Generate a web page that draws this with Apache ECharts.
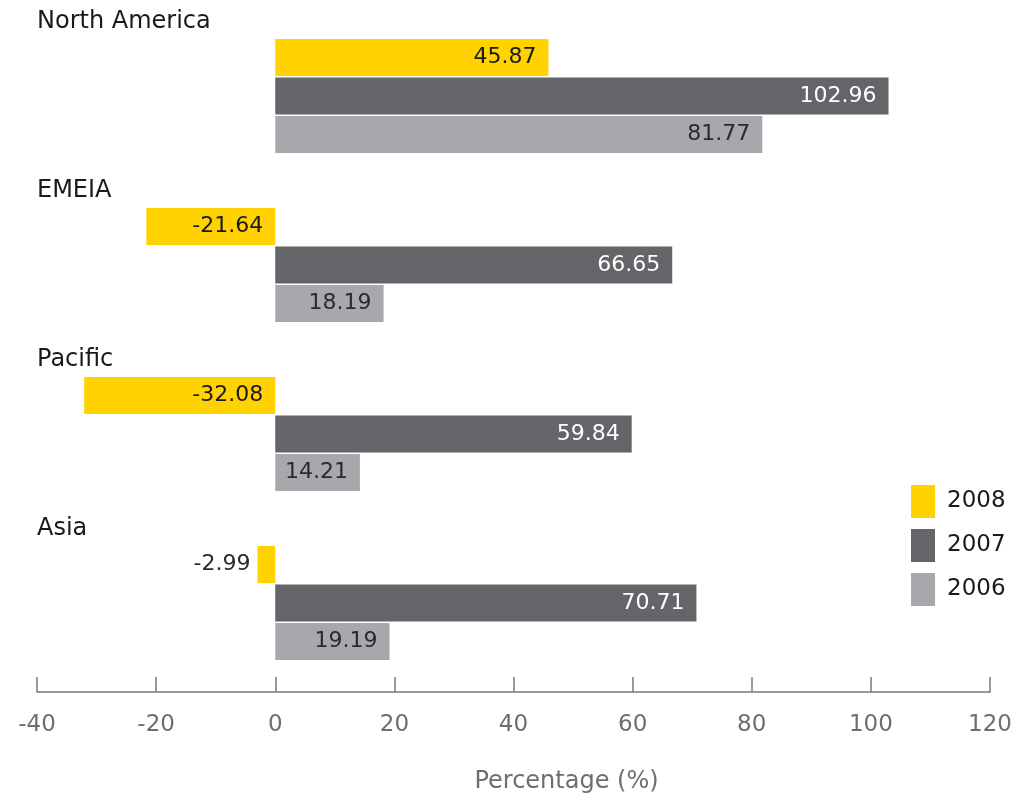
<!DOCTYPE html>
<html>
<head>
<meta charset="utf-8">
<script src="https://cdn.jsdelivr.net/npm/echarts@6/dist/echarts.min.js"></script>
<style>html,body{margin:0;padding:0;background:#fff}#c{width:1026px;height:799px}</style>
</head>
<body>
<div id="c"></div>
<script>
const categories = ['North America', 'EMEIA', 'Pacific', 'Asia'];
const years = ['2008', '2007', '2006'];
const values2008 = [45.87, -21.64, -32.08, -2.99];
const values2007 = [102.96, 66.65, 59.84, 70.71];
const values2006 = [81.77, 18.19, 14.21, 19.19];
const xTicks = { min: -40, max: 120, interval: 20 };
const axisName = 'Percentage (%)';

const FONT = 'DejaVu Sans';
const colors = ['#FFD200', '#646569', '#A7A8AC'];
const labelColors = ['#1a1a1a', '#ffffff', '#2a2a2a'];

function makeData(vals) {
  return vals.map(v => {
    const small = Math.abs(v) < 8;
    return {
      value: v,
      label: small ? { position: 'left', distance: 7, color: '#2a2a2a' } : {}
    };
  });
}

const seriesVals = [values2008, values2007, values2006];
const series = seriesVals.map((vals, i) => ({
  name: years[i],
  type: 'bar',
  data: makeData(vals),
  barWidth: 37,
  barGap: '4%',
  itemStyle: { color: colors[i] },
  label: {
    show: true,
    position: 'insideRight',
    distance: 12,
    color: labelColors[i],
    fontFamily: FONT,
    fontSize: 22,
    formatter: p => p.value.toFixed(2)
  }
}));

const chart = echarts.init(document.getElementById('c'));
chart.setOption({
  animation: false,
  backgroundColor: '#ffffff',
  grid: { left: 37, right: 36, top: 11.5, height: 676 },
  legend: {
    orient: 'vertical',
    left: 906,
    top: 480,
    itemWidth: 24,
    itemHeight: 33,
    itemGap: 11,
    icon: 'rect',
    data: years,
    textStyle: { fontFamily: FONT, fontSize: 23, color: '#1a1a1a', padding: [0, 0, 0, 7] }
  },
  xAxis: {
    type: 'value',
    min: xTicks.min,
    max: xTicks.max,
    interval: xTicks.interval,
    offset: 4.5,
    splitLine: { show: false },
    axisLine: { show: true, onZero: false, lineStyle: { color: '#7a7a7a', width: 1.5 } },
    axisTick: { show: true, inside: true, length: 15, lineStyle: { color: '#7a7a7a', width: 1.5 } },
    axisLabel: { margin: 22, fontFamily: FONT, fontSize: 23, color: '#6e6e6e' },
    name: axisName,
    nameLocation: 'middle',
    nameGap: 78,
    nameTextStyle: { fontFamily: FONT, fontSize: 24, color: '#6e6e6e', padding: [0, 0, 0, 106], verticalAlign: 'top' }
  },
  yAxis: {
    type: 'category',
    data: categories,
    inverse: true,
    axisLine: { show: false, onZero: false },
    axisTick: { show: false },
    splitLine: { show: false },
    axisLabel: {
      inside: true,
      interval: 0,
      margin: 0,
      align: 'left',
      verticalAlign: 'middle',
      formatter: v => '{t|' + v + '}\n{s| }',
      rich: {
        t: { fontFamily: FONT, fontSize: 24, color: '#1a1a1a', height: 28, lineHeight: 28 },
        s: { fontSize: 10, height: 148, lineHeight: 148 }
      }
    }
  },
  series: series
});
</script>
</body>
</html>
